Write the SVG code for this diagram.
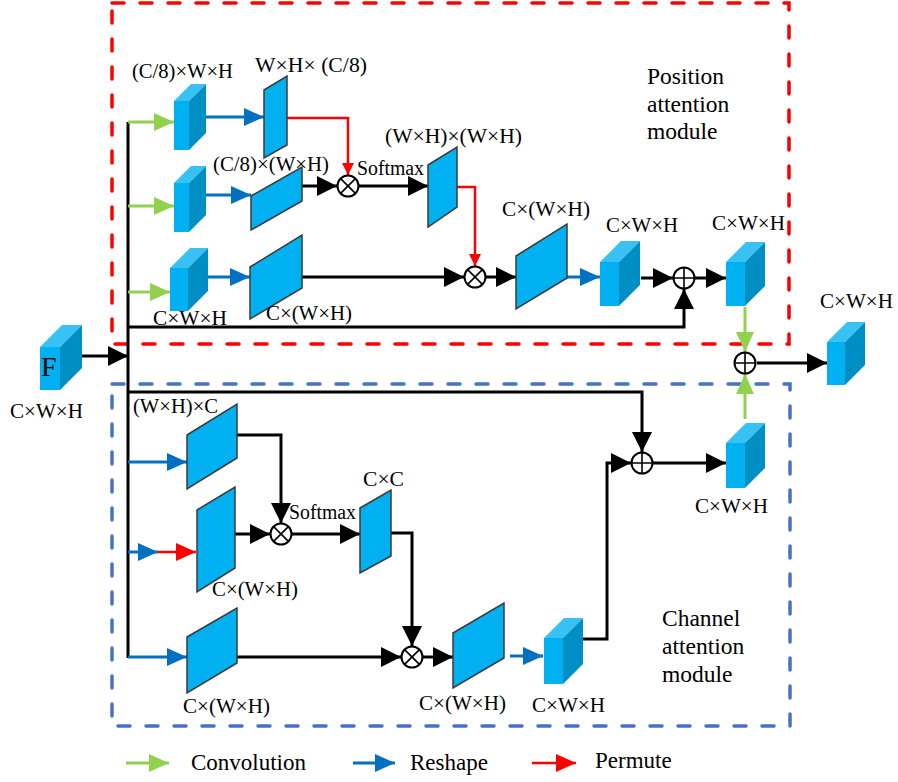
<svg xmlns="http://www.w3.org/2000/svg" width="898" height="782" viewBox="0 0 898 782" font-family="'Liberation Serif', 'DejaVu Serif', serif">
  <style>
    .lbl { font-size: 20px; }
    .mod { font-size: 23.5px; }
    .leg { font-size: 23px; }
    .para { fill: #00B0F0; stroke: #3a3a3a; stroke-width: 1.5; stroke-linejoin: miter; }
    .front { fill: #00B0F0; }
    .top { fill: #38C2F3; }
    .side { fill: #008FC4; }
    .k { fill: none; stroke: #000; stroke-width: 3; }
    .g { fill: none; stroke: #92D050; stroke-width: 3; }
    .b { fill: none; stroke: #0070C0; stroke-width: 3; }
    .r { fill: none; stroke: #FF0000; stroke-width: 2.5; }
    .op { fill: #fff; stroke: #000; stroke-width: 2; }
    .opl { fill: none; stroke: #000; stroke-width: 1.6; }
    .box-red { fill: none; stroke: #FF0000; stroke-width: 3.5; stroke-dasharray: 12 16; stroke-linecap: round; }
    .box-blue { fill: none; stroke: #4472C4; stroke-width: 3.5; stroke-dasharray: 12 16; stroke-linecap: round; }
  </style>
  <defs>
    <marker id="ak" markerUnits="userSpaceOnUse" markerWidth="20" markerHeight="20" refX="20" refY="10" orient="auto">
      <path d="M0,0 L20,10 L0,20 Z" fill="#000"/>
    </marker>
    <marker id="ag" markerUnits="userSpaceOnUse" markerWidth="20" markerHeight="18" refX="20" refY="9" orient="auto">
      <path d="M0,0 L20,9 L0,18 Z" fill="#92D050"/>
    </marker>
    <marker id="ab" markerUnits="userSpaceOnUse" markerWidth="20" markerHeight="18" refX="20" refY="9" orient="auto">
      <path d="M0,0 L20,9 L0,18 Z" fill="#0070C0"/>
    </marker>
    <marker id="ar" markerUnits="userSpaceOnUse" markerWidth="20" markerHeight="18" refX="20" refY="9" orient="auto">
      <path d="M0,0 L20,9 L0,18 Z" fill="#FF0000"/>
    </marker>
    <marker id="ars" markerUnits="userSpaceOnUse" markerWidth="12" markerHeight="12" refX="12" refY="6" orient="auto">
      <path d="M0,0 L12,6 L0,12 Z" fill="#FF0000"/>
    </marker>
  </defs>

  <rect width="898" height="782" fill="#fff"/>

  <!-- module frames -->
  <g id="frames">
    <rect class="box-red" x="112" y="3" width="677" height="341"/>
    <rect class="box-blue" x="112" y="384" width="678" height="342"/>
  </g>

  <!-- connectors -->
  <g id="connectors">
    <!-- shared trunk and input -->
    <path class="k" d="M128,122 V658"/>
    <path class="k" d="M82,356 H128" marker-end="url(#ak)"/>

    <!-- position attention branch -->
    <path class="g" d="M128,122 H174" marker-end="url(#ag)"/>
    <path class="g" d="M128,206 H174" marker-end="url(#ag)"/>
    <path class="g" d="M128,292 H170" marker-end="url(#ag)"/>
    <path class="b" d="M205,117 H264" marker-end="url(#ab)"/>
    <path class="b" d="M205,195 H251" marker-end="url(#ab)"/>
    <path class="b" d="M208,277 H250" marker-end="url(#ab)"/>
    <path class="k" d="M302,186 H337" marker-end="url(#ak)"/>
    <path class="k" d="M359,186 H428" marker-end="url(#ak)"/>
    <path class="r" d="M287,118 H348 V175" marker-end="url(#ars)"/>
    <path class="r" d="M457,187 H475 V266" marker-end="url(#ars)"/>
    <path class="k" d="M302,277 H464" marker-end="url(#ak)"/>
    <path class="k" d="M486,277 H516" marker-end="url(#ak)"/>
    <path class="b" d="M567,277 H600" marker-end="url(#ab)"/>
    <path class="k" d="M641,278 H673" marker-end="url(#ak)"/>
    <path class="k" d="M695,278 H726" marker-end="url(#ak)"/>
    <path class="k" d="M128,327 H684 V289" marker-end="url(#ak)"/>
    <path class="g" d="M745,307 V352" marker-end="url(#ag)"/>
    <path class="k" d="M757,363 H827" marker-end="url(#ak)"/>

    <!-- channel attention branch -->
    <path class="k" d="M128,392 H642 V452" marker-end="url(#ak)"/>
    <path class="b" d="M128,462 H187" marker-end="url(#ab)"/>
    <path class="b" d="M128,552 H158" marker-end="url(#ab)"/>
    <path class="r" d="M158,552 H196" marker-end="url(#ar)"/>
    <path class="b" d="M128,657 H187" marker-end="url(#ab)"/>
    <path class="k" d="M237,435 H281 V523" marker-end="url(#ak)"/>
    <path class="k" d="M235,534 H270" marker-end="url(#ak)"/>
    <path class="k" d="M292,534 H360" marker-end="url(#ak)"/>
    <path class="k" d="M391,533 H412 V646" marker-end="url(#ak)"/>
    <path class="k" d="M237,657 H401" marker-end="url(#ak)"/>
    <path class="k" d="M423,657 H453" marker-end="url(#ak)"/>
    <path class="b" d="M510,656 H543" marker-end="url(#ab)"/>
    <path class="k" d="M583,639 H607 V463 H631" marker-end="url(#ak)"/>
    <path class="k" d="M653,463 H726" marker-end="url(#ak)"/>
    <path class="g" d="M745,419 V374" marker-end="url(#ag)"/>
  </g>

  <!-- input feature F -->
  <g id="input-F">
    <rect class="front" x="40" y="347" width="20" height="43"/>
    <polygon class="top" points="40,347 62,325 82,325 60,347"/>
    <polygon class="side" points="60,347 82,325 82,368 60,390"/>
    <text x="41" y="376" font-size="28">F</text>
    <text class="lbl" x="10" y="418" textLength="73" lengthAdjust="spacingAndGlyphs">C×W×H</text>
  </g>

  <!-- position attention module -->
  <g id="pam-conv1">
    <rect class="front" x="174" y="101" width="15" height="49"/>
    <polygon class="top" points="174,101 191,84 206,84 189,101"/>
    <polygon class="side" points="189,101 206,84 206,133 189,150"/>
    <text class="lbl" x="132" y="78" textLength="101" lengthAdjust="spacingAndGlyphs">(C/8)×W×H</text>
  </g>
  <g id="pam-conv2">
    <rect class="front" x="174" y="183" width="15" height="49"/>
    <polygon class="top" points="174,183 191,166 206,166 189,183"/>
    <polygon class="side" points="189,183 206,166 206,215 189,232"/>
  </g>
  <g id="pam-conv3">
    <rect class="front" x="170" y="268" width="18" height="43"/>
    <polygon class="top" points="170,268 190,248 208,248 188,268"/>
    <polygon class="side" points="188,268 208,248 208,291 188,311"/>
    <text class="lbl" x="153" y="325" textLength="74" lengthAdjust="spacingAndGlyphs">C×W×H</text>
  </g>
  <g id="pam-query">
    <polygon class="para" points="264,90 287,76 287,145 264,158"/>
    <text class="lbl" x="255" y="72" textLength="112" lengthAdjust="spacingAndGlyphs">W×H× (C/8)</text>
  </g>
  <g id="pam-key">
    <polygon class="para" points="251,196 302,167 302,201 251,230"/>
    <text class="lbl" x="213" y="171" textLength="116" lengthAdjust="spacingAndGlyphs">(C/8)×(W×H)</text>
  </g>
  <g id="pam-value">
    <polygon class="para" points="250,267 302,235 302,288 250,319"/>
    <text class="lbl" x="266" y="320" textLength="86" lengthAdjust="spacingAndGlyphs">C×(W×H)</text>
  </g>
  <g id="pam-mul1">
    <circle class="op" cx="348" cy="186" r="10.5"/>
    <path class="opl" d="M340.6,178.6 L355.4,193.4 M355.4,178.6 L340.6,193.4"/>
    <text class="lbl" x="357" y="175" textLength="67" lengthAdjust="spacingAndGlyphs">Softmax</text>
  </g>
  <g id="pam-attn">
    <polygon class="para" points="428,165 457,147 457,207 428,227"/>
    <text class="lbl" x="385" y="143" textLength="137" lengthAdjust="spacingAndGlyphs">(W×H)×(W×H)</text>
  </g>
  <g id="pam-mul2">
    <circle class="op" cx="475" cy="277" r="10.5"/>
    <path class="opl" d="M467.6,269.6 L482.4,284.4 M482.4,269.6 L467.6,284.4"/>
  </g>
  <g id="pam-out">
    <polygon class="para" points="516,256 567,224 567,278 516,309"/>
    <text class="lbl" x="502" y="216" textLength="88" lengthAdjust="spacingAndGlyphs">C×(W×H)</text>
  </g>
  <g id="pam-reshape">
    <rect class="front" x="600" y="262" width="19" height="44"/>
    <polygon class="top" points="600,262 621,241 640,241 619,262"/>
    <polygon class="side" points="619,262 640,241 640,285 619,306"/>
    <text class="lbl" x="606" y="232" textLength="72" lengthAdjust="spacingAndGlyphs">C×W×H</text>
  </g>
  <g id="pam-sum">
    <circle class="op" cx="684" cy="278" r="10.5"/>
    <path class="opl" d="M673.5,278 H694.5 M684,267.5 V288.5"/>
  </g>
  <g id="pam-result">
    <rect class="front" x="726" y="262" width="19" height="44"/>
    <polygon class="top" points="726,262 746,242 765,242 745,262"/>
    <polygon class="side" points="745,262 765,242 765,286 745,306"/>
    <text class="lbl" x="712" y="230" textLength="73" lengthAdjust="spacingAndGlyphs">C×W×H</text>
  </g>
  <g id="pam-title">
    <text class="mod" x="647" y="84">Position</text>
    <text class="mod" x="647" y="112">attention</text>
    <text class="mod" x="647" y="139">module</text>
  </g>

  <!-- fusion -->
  <g id="fusion-sum">
    <circle class="op" cx="745" cy="363" r="10.5"/>
    <path class="opl" d="M734.5,363 H755.5 M745,352.5 V373.5"/>
  </g>
  <g id="output">
    <rect class="front" x="827" y="342" width="18" height="43"/>
    <polygon class="top" points="827,342 847,322 865,322 845,342"/>
    <polygon class="side" points="845,342 865,322 865,365 845,385"/>
    <text class="lbl" x="820" y="308" textLength="73" lengthAdjust="spacingAndGlyphs">C×W×H</text>
  </g>

  <!-- channel attention module -->
  <g id="cam-a">
    <polygon class="para" points="187,435 237,404 237,458 187,489"/>
    <text class="lbl" x="133" y="413" textLength="85" lengthAdjust="spacingAndGlyphs">(W×H)×C</text>
  </g>
  <g id="cam-b">
    <polygon class="para" points="197,510 235,487 235,568 197,592"/>
    <text class="lbl" x="212" y="596" textLength="86" lengthAdjust="spacingAndGlyphs">C×(W×H)</text>
  </g>
  <g id="cam-mul1">
    <circle class="op" cx="281" cy="534" r="10.5"/>
    <path class="opl" d="M273.6,526.6 L288.4,541.4 M288.4,526.6 L273.6,541.4"/>
    <text class="lbl" x="289" y="519" textLength="67" lengthAdjust="spacingAndGlyphs">Softmax</text>
  </g>
  <g id="cam-attn">
    <polygon class="para" points="360,508 391,490 391,556 360,573"/>
    <text class="lbl" x="363" y="486" textLength="41" lengthAdjust="spacingAndGlyphs">C×C</text>
  </g>
  <g id="cam-c">
    <polygon class="para" points="187,637 237,608 237,663 187,693"/>
    <text class="lbl" x="183" y="713" textLength="87" lengthAdjust="spacingAndGlyphs">C×(W×H)</text>
  </g>
  <g id="cam-mul2">
    <circle class="op" cx="412" cy="657" r="10.5"/>
    <path class="opl" d="M404.6,649.6 L419.4,664.4 M419.4,649.6 L404.6,664.4"/>
  </g>
  <g id="cam-out">
    <polygon class="para" points="453,633 504,603 504,658 453,688"/>
    <text class="lbl" x="419" y="710" textLength="87" lengthAdjust="spacingAndGlyphs">C×(W×H)</text>
  </g>
  <g id="cam-reshape">
    <rect class="front" x="544" y="638" width="19" height="46"/>
    <polygon class="top" points="544,638 564,618 583,618 563,638"/>
    <polygon class="side" points="563,638 583,618 583,664 563,684"/>
    <text class="lbl" x="532" y="712" textLength="73" lengthAdjust="spacingAndGlyphs">C×W×H</text>
  </g>
  <g id="cam-sum">
    <circle class="op" cx="642" cy="463" r="10.5"/>
    <path class="opl" d="M631.5,463 H652.5 M642,452.5 V473.5"/>
  </g>
  <g id="cam-result">
    <rect class="front" x="726" y="443" width="19" height="45"/>
    <polygon class="top" points="726,443 746,423 765,423 745,443"/>
    <polygon class="side" points="745,443 765,423 765,468 745,488"/>
    <text class="lbl" x="695" y="513" textLength="73" lengthAdjust="spacingAndGlyphs">C×W×H</text>
  </g>
  <g id="cam-title">
    <text class="mod" x="662" y="626">Channel</text>
    <text class="mod" x="662" y="654">attention</text>
    <text class="mod" x="662" y="682">module</text>
  </g>

  <!-- legend -->
  <g id="legend">
    <path class="g" d="M126,763 H169" marker-end="url(#ag)"/>
    <text class="leg" x="191" y="770">Convolution</text>
    <path class="b" d="M353,763 H395" marker-end="url(#ab)"/>
    <text class="leg" x="410" y="770">Reshape</text>
    <path class="r" d="M532,763 H576" marker-end="url(#ar)"/>
    <text class="leg" x="595" y="768">Permute</text>
  </g>
</svg>
